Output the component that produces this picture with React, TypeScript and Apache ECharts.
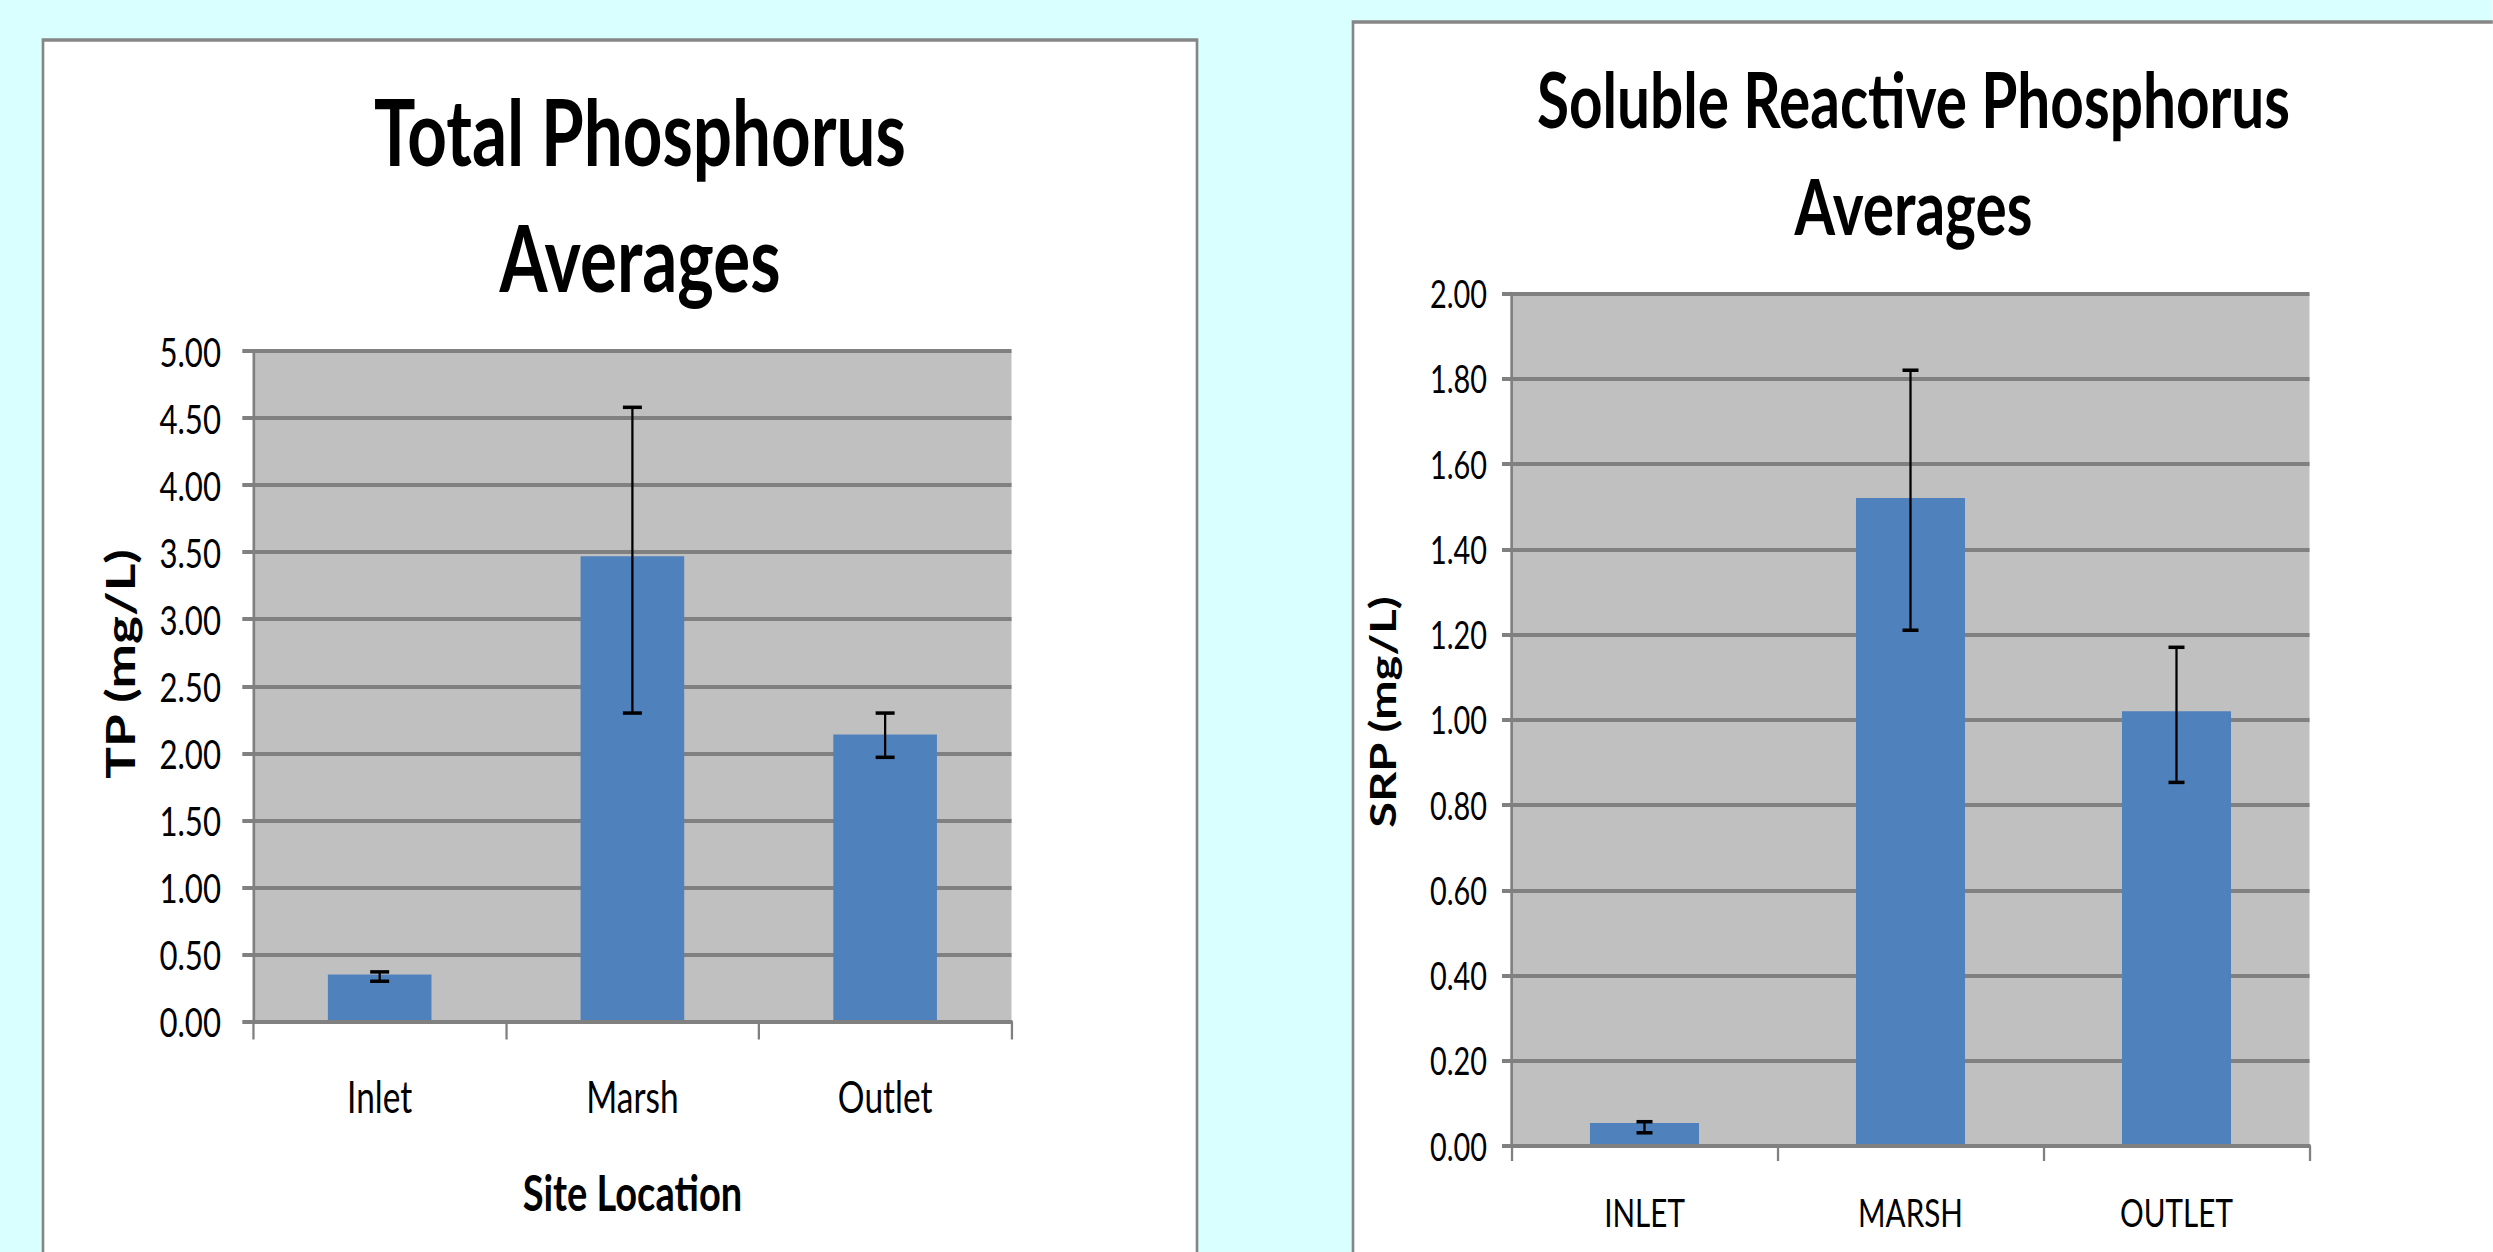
import React, { useEffect, useRef } from "react";
import * as echarts from "echarts";

// ---- Data ----
const tpCategories = ["Inlet", "Marsh", "Outlet"];
const tpValues = [0.35, 3.47, 2.14];
const tpErrLow = [0.3, 2.3, 1.97];
const tpErrHigh = [0.37, 4.58, 2.3];
const tpAxis = { min: 0, max: 5, interval: 0.5 };

const srpCategories = ["INLET", "MARSH", "OUTLET"];
const srpValues = [0.054, 1.52, 1.02];
const srpErrLow = [0.031, 1.21, 0.853];
const srpErrHigh = [0.057, 1.82, 1.17];
const srpAxis = { min: 0, max: 2, interval: 0.2 };

const tpTitle = "Total Phosphorus\nAverages";
const srpTitle = "Soluble Reactive Phosphorus\nAverages";
const tpYName = "TP (mg/L)";
const srpYName = "SRP (mg/L)";
const tpXName = "Site Location";

// ---- Layout: the reference is horizontally condensed; render wide then squeeze ----
const S = 0.76;
const X = (v: number) => v / S;
const W = 2493 / S;
const H = 1252;

const FONT = "Lato";
const GRID_GRAY = "#808080";
const BAR_BLUE = "#4F81BD";

function errorBars(axisIndex: number, low: number[], high: number[], capHalf: number) {
  return {
    type: "custom",
    xAxisIndex: axisIndex,
    yAxisIndex: axisIndex,
    z: 5,
    data: low.map((l, i) => [i, l, high[i]]),
    encode: { x: 0, y: [1, 2] },
    renderItem: (_params: any, api: any) => {
      const lo = api.coord([api.value(0), api.value(1)]);
      const hi = api.coord([api.value(0), api.value(2)]);
      const x = lo[0];
      return {
        type: "group",
        children: [
          { type: "line", shape: { x1: x, y1: hi[1], x2: x, y2: lo[1] }, style: { stroke: "#000", lineWidth: 3 } },
          { type: "line", shape: { x1: x - capHalf, y1: hi[1], x2: x + capHalf, y2: hi[1] }, style: { stroke: "#000", lineWidth: 3.5 } },
          { type: "line", shape: { x1: x - capHalf, y1: lo[1], x2: x + capHalf, y2: lo[1] }, style: { stroke: "#000", lineWidth: 3.5 } },
        ],
      };
    },
  };
}

function makeXAxis(gridIndex: number, data: string[], fontSize: number, margin: number, tickLen: number, extra: any = {}) {
  return {
    type: "category",
    gridIndex,
    data,
    boundaryGap: true,
    z: 10,
    axisLine: { show: true, lineStyle: { color: GRID_GRAY, width: 4 } },
    axisTick: { show: true, length: tickLen, lineStyle: { color: GRID_GRAY, width: 3 } },
    axisLabel: { color: "#000", fontFamily: FONT, fontSize, lineHeight: fontSize, margin },
    splitLine: { show: false },
    ...extra,
  };
}

function makeYAxis(gridIndex: number, ax: { min: number; max: number; interval: number }, fontSize: number, margin: number, tickLen: number) {
  return {
    type: "value",
    gridIndex,
    min: ax.min,
    max: ax.max,
    interval: ax.interval,
    axisLine: { show: true, lineStyle: { color: GRID_GRAY, width: 3.5 } },
    axisTick: { show: true, length: tickLen, lineStyle: { color: GRID_GRAY, width: 4 } },
    splitLine: { show: true, lineStyle: { color: GRID_GRAY, width: 4 } },
    axisLabel: {
      color: "#000",
      fontFamily: FONT,
      fontSize,
      margin,
      formatter: (v: number) => v.toFixed(2),
    },
  };
}

const option: any = {
  animation: false,
  backgroundColor: "#D9FFFF",
  title: [
    {
      text: tpTitle,
      left: X(640),
      top: 68,
      textAlign: "center",
      padding: 0,
      textStyle: { fontFamily: FONT, fontWeight: "bold", fontSize: 91, lineHeight: 126, color: "#000" },
    },
    {
      text: srpTitle,
      left: X(1913.5),
      top: 45,
      textAlign: "center",
      padding: 0,
      textStyle: { fontFamily: FONT, fontWeight: "bold", fontSize: 77, lineHeight: 107, color: "#000" },
    },
  ],
  graphic: {
    elements: [
      {
        type: "rect",
        z: -100,
        silent: true,
        shape: { x: X(43), y: 40, width: X(1197 - 43), height: 1400 },
        style: { fill: "#FFFFFF", stroke: "#868686", lineWidth: 3.5 },
      },
      {
        type: "rect",
        z: -100,
        silent: true,
        shape: { x: X(1353), y: 22, width: X(1400), height: 1400 },
        style: { fill: "#FFFFFF", stroke: "#868686", lineWidth: 3.5 },
      },
      {
        type: "text",
        z: 100,
        x: X(120),
        y: 664,
        rotation: Math.PI / 2,
        style: { text: tpYName, fontFamily: FONT, fontWeight: "bold", fontSize: 53, fill: "#000", align: "center", verticalAlign: "middle" },
      },
      {
        type: "text",
        z: 100,
        x: X(1382.5),
        y: 712,
        rotation: Math.PI / 2,
        style: { text: srpYName, fontFamily: FONT, fontWeight: "bold", fontSize: 47, fill: "#000", align: "center", verticalAlign: "middle" },
      },
    ],
  },
  grid: [
    {
      left: X(253.3),
      top: 351,
      width: X(1011.5 - 253.3),
      height: 1021.5 - 351,
      show: true,
      backgroundColor: "#C0C0C0",
      borderWidth: 0,
      containLabel: false,
      outerBoundsMode: "none",
    },
    {
      left: X(1511.5),
      top: 293.5,
      width: X(2309.5 - 1511.5),
      height: 1146 - 293.5,
      show: true,
      backgroundColor: "#C0C0C0",
      borderWidth: 0,
      containLabel: false,
      outerBoundsMode: "none",
    },
  ],
  xAxis: [
    makeXAxis(0, tpCategories, 44, 52, 18, {
      name: tpXName,
      nameLocation: "middle",
      nameGap: 145,
      nameTextStyle: { fontFamily: FONT, fontWeight: "bold", fontSize: 50, lineHeight: 50, color: "#000" },
    }),
    makeXAxis(1, srpCategories, 39, 46, 15),
  ],
  yAxis: [
    makeYAxis(0, tpAxis, 41, X(253.3 - 221), X(11)),
    makeYAxis(1, srpAxis, 38, X(1511.5 - 1487), X(9.5)),
  ],
  series: [
    {
      type: "bar",
      xAxisIndex: 0,
      yAxisIndex: 0,
      data: tpValues,
      barWidth: "41%",
      itemStyle: { color: BAR_BLUE },
    },
    errorBars(0, tpErrLow, tpErrHigh, X(9.5)),
    {
      type: "bar",
      xAxisIndex: 1,
      yAxisIndex: 1,
      data: srpValues,
      barWidth: "41%",
      itemStyle: { color: BAR_BLUE },
    },
    errorBars(1, srpErrLow, srpErrHigh, X(8)),
  ],
};

export default function App() {
  const ref = useRef<HTMLDivElement>(null);
  useEffect(() => {
    document.body.style.margin = "0";
    const chart = echarts.init(ref.current!, null, { renderer: "svg" });
    chart.setOption(option);
    return () => chart.dispose();
  }, []);
  return (
    <div
      ref={ref}
      style={{
        position: "fixed",
        left: 0,
        top: 0,
        width: W,
        height: H,
        transform: `scaleX(${S})`,
        transformOrigin: "0 0",
      }}
    />
  );
}
